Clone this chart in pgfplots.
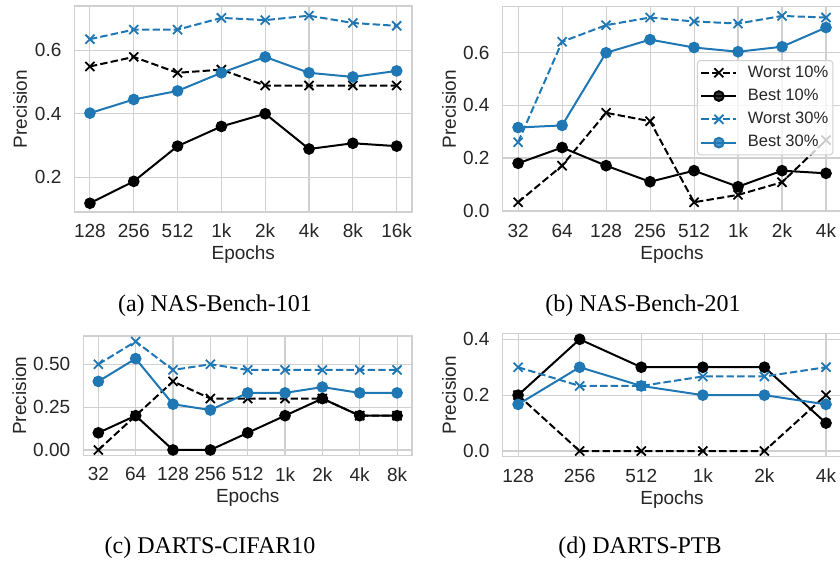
\documentclass[border=0pt]{standalone}
\usepackage{fontspec}
\setmainfont{Liberation Serif}
\newfontfamily\axfont{Liberation Sans}
\usepackage{pgfplots}
\pgfplotsset{compat=1.18}
\definecolor{tb}{HTML}{1F77B4}
\definecolor{gridc}{HTML}{D0D0D0}
\definecolor{txt}{HTML}{262626}
\pgfplotsset{
  base/.style={
    scale only axis, anchor=south west,
    axis line style={gridc, line width=1.3pt},
    grid=major, grid style={gridc, line width=1.1pt},
    major tick length=0pt, tick style={draw=none},
    every tick label/.append style={inner sep=0pt, text=txt, font=\axfont\fontsize{19}{22}\selectfont},
    xticklabel shift=12pt, yticklabel shift=13pt,
    label style={font=\axfont\fontsize{19}{22}\selectfont, text=txt},
    xlabel={Epochs}, ylabel={Precision},
    xlabel style={at={(axis description cs:0.5,0)}, anchor=center, yshift=-43pt},
    clip=false,
  },
  w10/.style={black, line width=2pt, dash pattern=on 7.4pt off 3.2pt, mark=x, mark size=6.4pt, mark options={solid, line width=1.8pt}},
  b10/.style={black, line width=2pt, solid, mark=*, mark size=4.8pt},
  w30/.style={tb, line width=2pt, dash pattern=on 7.4pt off 3.2pt, mark=x, mark size=6.4pt, mark options={solid, line width=1.8pt}},
  b30/.style={tb, line width=2pt, solid, mark=*, mark size=4.8pt},
}
\begin{document}
\begin{tikzpicture}
% (a)
\begin{axis}[base, at={(74.6pt,348pt)}, width=337.4pt, height=206pt,
  xmin=-0.35, xmax=7.35, ymin=0.0905, ymax=0.7395,
  xtick={0,...,7}, xticklabels={128,256,512,1k,2k,4k,8k,16k},
  ytick={0.2,0.4,0.6}, yticklabels={0.2,0.4,0.6},
  ylabel style={at={(axis description cs:-0.1618,0.5)}, anchor=center}]
\addplot[w10] coordinates {(0,0.549)(1,0.579)(2,0.529)(3,0.539)(4,0.489)(5,0.489)(6,0.489)(7,0.489)};
\addplot[b10] coordinates {(0,0.118)(1,0.187)(2,0.298)(3,0.360)(4,0.400)(5,0.289)(6,0.307)(7,0.298)};
\addplot[w30] coordinates {(0,0.635)(1,0.665)(2,0.665)(3,0.702)(4,0.695)(5,0.709)(6,0.686)(7,0.677)};
\addplot[b30] coordinates {(0,0.402)(1,0.445)(2,0.472)(3,0.529)(4,0.579)(5,0.529)(6,0.516)(7,0.535)};
\end{axis}
% (b)
\begin{axis}[base, at={(502.7pt,348.4pt)}, width=338.7pt, height=205pt,
  xmin=-0.35, xmax=7.35, ymin=-0.0035, ymax=0.7755,
  xtick={0,...,7}, xticklabels={32,64,128,256,512,1k,2k,4k},
  ytick={0,0.2,0.4,0.6}, yticklabels={0.0,0.2,0.4,0.6},
  ylabel style={at={(axis description cs:-0.1585,0.5)}, anchor=center},
  legend cell align=left,
  legend image code/.code={\draw[mark repeat=2,mark phase=2,#1] plot coordinates {(0pt,0pt) (17.5pt,0pt) (35pt,0pt)};},
  legend style={at={(0.976,0.7395)}, anchor=north east, draw=gridc, line width=1pt,
    fill=white, fill opacity=0.8, text opacity=1, draw opacity=1, rounded corners=3pt,
    font=\axfont\fontsize{16.5}{19}\selectfont, text=txt,
    inner xsep=3pt, inner ysep=3pt, row sep=4.8pt,
    nodes={inner sep=1.5pt, text height=12pt, text depth=3.5pt},
    /tikz/every odd column/.append style={column sep=9pt}}]
\addplot[w10] coordinates {(0,0.032)(1,0.171)(2,0.372)(3,0.340)(4,0.032)(5,0.060)(6,0.108)(7,0.268)};
\addplot[b10] coordinates {(0,0.180)(1,0.240)(2,0.171)(3,0.110)(4,0.152)(5,0.091)(6,0.152)(7,0.142)};
\addplot[w30] coordinates {(0,0.260)(1,0.642)(2,0.705)(3,0.734)(4,0.719)(5,0.711)(6,0.740)(7,0.734)};
\addplot[b30] coordinates {(0,0.316)(1,0.324)(2,0.600)(3,0.650)(4,0.620)(5,0.604)(6,0.623)(7,0.696)};
\legend{Worst 10\%, Best 10\%, Worst 30\%, Best 30\%}
\end{axis}
% (c)
\begin{axis}[base, at={(83.4pt,104.6pt)}, width=328.6pt, height=119.4pt,
  xmin=-0.4, xmax=8.4, ymin=-0.0317, ymax=0.665,
  xtick={0,...,8}, xticklabels={32,64,128,256,512,1k,2k,4k,8k},
  ytick={0,0.25,0.5}, yticklabels={0.00,0.25,0.50},
  xlabel style={yshift=1pt},
  ylabel style={at={(axis description cs:-0.1948,0.5)}, anchor=center}]
\addplot[w10] coordinates {(0,0)(1,0.2)(2,0.4)(3,0.3)(4,0.3)(5,0.3)(6,0.3)(7,0.2)(8,0.2)};
\addplot[b10] coordinates {(0,0.1)(1,0.2)(2,0)(3,0)(4,0.1)(5,0.2)(6,0.3)(7,0.2)(8,0.2)};
\addplot[w30] coordinates {(0,0.5)(1,0.633)(2,0.467)(3,0.5)(4,0.467)(5,0.467)(6,0.467)(7,0.467)(8,0.467)};
\addplot[b30] coordinates {(0,0.4)(1,0.533)(2,0.267)(3,0.233)(4,0.333)(5,0.333)(6,0.367)(7,0.333)(8,0.333)};
\end{axis}
% (d)
\begin{axis}[base, at={(502.7pt,103.4pt)}, width=338.7pt, height=122.9pt,
  xmin=-0.25, xmax=5.25, ymin=-0.02, ymax=0.42,
  xtick={0,...,5}, xticklabels={128,256,512,1k,2k,4k},
  ytick={0,0.2,0.4}, yticklabels={0.0,0.2,0.4},
  ylabel style={at={(axis description cs:-0.1585,0.5)}, anchor=center}]
\addplot[w10] coordinates {(0,0.2)(1,0)(2,0)(3,0)(4,0)(5,0.2)};
\addplot[b10] coordinates {(0,0.2)(1,0.4)(2,0.3)(3,0.3)(4,0.3)(5,0.1)};
\addplot[w30] coordinates {(0,0.3)(1,0.233)(2,0.233)(3,0.267)(4,0.267)(5,0.3)};
\addplot[b30] coordinates {(0,0.167)(1,0.3)(2,0.233)(3,0.2)(4,0.2)(5,0.167)};
\end{axis}
\node[anchor=base, font=\fontsize{24}{28}\selectfont] at (215pt,248.3pt) {(a) NAS-Bench-101};
\node[anchor=base, font=\fontsize{24}{28}\selectfont] at (643pt,248.3pt) {(b) NAS-Bench-201};
\node[anchor=base, font=\fontsize{24}{28}\selectfont] at (210pt,6.7pt) {(c) DARTS-CIFAR10};
\node[anchor=base, font=\fontsize{24}{28}\selectfont] at (640pt,6.7pt) {(d) DARTS-PTB};
\pgfresetboundingbox
\useasboundingbox (0,0) rectangle (840pt,560pt);
\end{tikzpicture}
\end{document}
